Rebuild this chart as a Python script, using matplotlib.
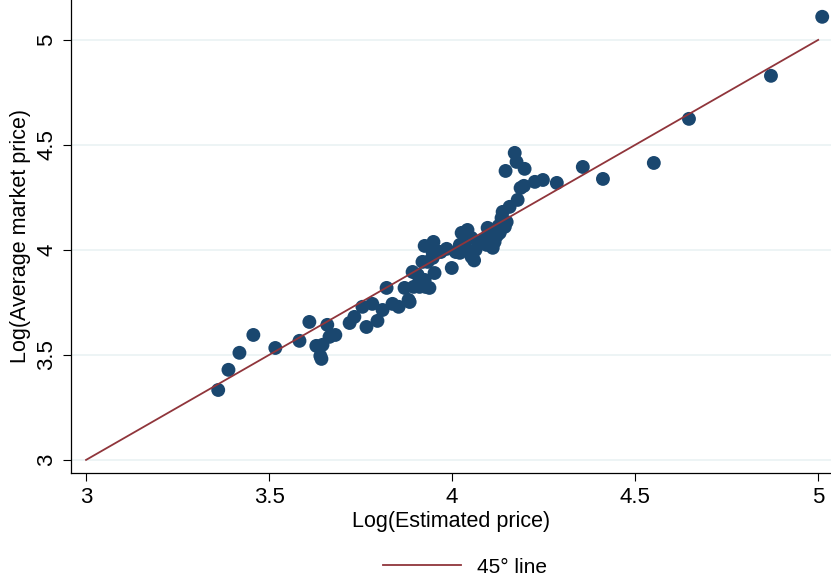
import matplotlib.pyplot as plt
import numpy as np

plt.rcParams['font.family'] = ['Liberation Sans', 'DejaVu Sans']

# Log(Estimated price) / Log(Average market price)
est_price = [
    3.361, 3.389, 3.419, 3.457, 3.517, 3.583, 3.610, 3.629, 3.646, 3.640,
    3.643, 3.659, 3.665, 3.681, 3.720, 3.733, 3.755, 3.766, 3.782, 3.796,
    3.810, 3.821, 3.837, 3.854, 3.870, 3.881, 3.884, 3.892, 3.895, 3.906,
    3.911, 3.925, 3.925, 3.927, 3.938, 3.933, 3.947, 3.949, 3.952, 3.958,
    3.969, 3.985, 3.999, 4.010, 4.021, 4.026, 4.034, 4.037, 4.042, 4.053,
    4.053, 4.048, 4.064, 4.075, 4.086, 4.097, 4.105, 4.111, 4.116, 4.122,
    4.130, 4.135, 4.138, 4.144, 4.149, 4.157, 4.146, 4.171, 4.176, 4.198,
    4.187, 4.179, 4.196, 4.226, 4.248, 4.286, 4.357, 4.412, 4.551, 4.647,
    4.871, 5.011, 3.919, 3.947, 4.021, 4.094, 4.127, 4.060,
]
mkt_price = [
    3.333, 3.429, 3.510, 3.595, 3.533, 3.567, 3.657, 3.543, 3.548, 3.495,
    3.481, 3.643, 3.586, 3.595, 3.652, 3.681, 3.729, 3.633, 3.743, 3.662,
    3.714, 3.819, 3.743, 3.729, 3.819, 3.762, 3.752, 3.895, 3.824, 3.881,
    3.824, 3.857, 4.019, 3.824, 3.819, 3.943, 3.962, 4.038, 3.890, 3.995,
    3.990, 4.005, 3.914, 3.990, 4.024, 4.081, 4.014, 4.048, 4.095, 4.057,
    3.967, 3.990, 4.000, 4.033, 4.048, 4.105, 4.048, 4.010, 4.038, 4.067,
    4.081, 4.152, 4.181, 4.110, 4.133, 4.205, 4.376, 4.462, 4.419, 4.386,
    4.295, 4.238, 4.305, 4.324, 4.333, 4.319, 4.395, 4.338, 4.414, 4.624,
    4.829, 5.110, 3.943, 3.986, 3.986, 4.024, 4.114, 3.950,
]
line_ends = [3, 5]
ticks = [3, 3.5, 4, 4.5, 5]

navy = '#1a476f'
maroon = '#90353b'

fig = plt.figure(figsize=(8.31, 5.81), dpi=100)
ax = fig.add_axes([0.0855, 0.186, 0.9145, 0.814])

ax.scatter(est_price, mkt_price, s=100, color=navy, edgecolors='none', zorder=3)
ax.plot(line_ends, line_ends, color=maroon, lw=1.3, zorder=4, label='45° line')

ax.set_xlim(2.959, 5.035)
ax.set_ylim(2.938, 5.19)
ax.set_xticks(ticks)
ax.set_yticks(ticks)
ax.set_xticklabels(['3', '3.5', '4', '4.5', '5'])
ax.set_yticklabels(['3', '3.5', '4', '4.5', '5'], rotation=90, va='center')
ax.tick_params(labelsize=16, length=6, width=0.8, direction='out', pad=4)
ax.grid(axis='y', color='#eaf2f3', lw=1.2, zorder=0)
ax.set_axisbelow(True)
for s in ['top', 'right']:
    ax.spines[s].set_visible(False)
ax.spines['left'].set_linewidth(0.9)
ax.spines['bottom'].set_linewidth(0.9)

ax.set_xlabel('Log(Estimated price)', fontsize=15.5, labelpad=2)
ax.set_ylabel('Log(Average market price)', fontsize=15.5, labelpad=4)

fig.legend(loc='center', bbox_to_anchor=(0.56, 0.024), frameon=False,
           fontsize=15, handlelength=3.7)

fig.savefig('out.png', dpi=100)
